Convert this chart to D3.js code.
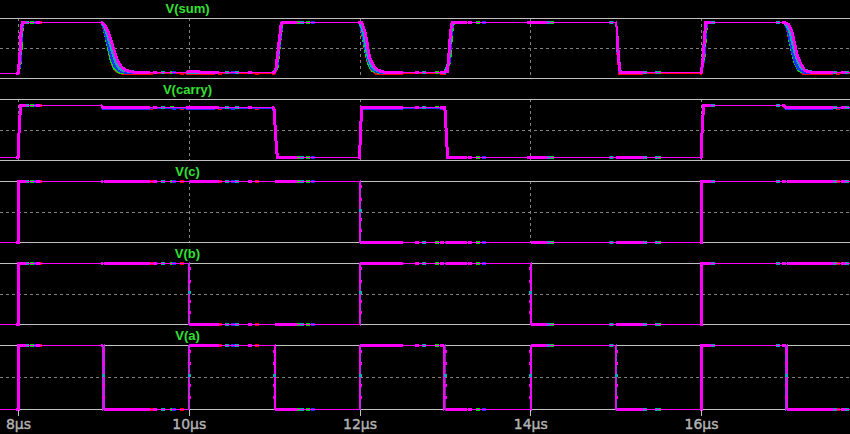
<!DOCTYPE html>
<html><head><meta charset="utf-8">
<script src="https://cdn.jsdelivr.net/npm/d3@7"></script>
<style>html,body{margin:0;padding:0;background:#000;} svg{display:block;}</style>
</head><body>
<svg id="chart" width="850" height="434"></svg>
<script>
// ---------------- DATA ----------------
const paneNames = ["V(sum)", "V(carry)", "V(c)", "V(b)", "V(a)"];
const tickValues = [8, 10, 12, 14, 16];
const tickLabels = ["8µs", "10µs", "12µs", "14µs", "16µs"];
const timeDomain = [7.789, 17.745]; // µs

// input sources (identical in every run)
const vA = [[7.789,0],[8.0,0],[8.0,5],[9.0,5],[9.0,0],[10.0,0],[10.0,5],[11.0,5],[11.0,0],[12.0,0],[12.0,5],[13.0,5],[13.0,0],[14.0,0],[14.0,5],[15.0,5],[15.0,0],[16.0,0],[16.0,5],[17.0,5],[17.0,0],[17.745,0]];
const vB = [[7.789,0],[8.0,0],[8.0,5],[10.0,5],[10.0,0],[12.0,0],[12.0,5],[14.0,5],[14.0,0],[16.0,0],[16.0,5],[17.745,5]];
const vC = [[7.789,0],[8.0,0],[8.0,5],[12.0,5],[12.0,0],[16.0,0],[16.0,5],[17.745,5]];
// data-point levels seen along the sharp input edges (V)
const edgeMarkLevels = [4.6, 3.6, 2.7, 1.9, 1.0];

// V(sum) per run
const sumMagenta = [[7.789,-0.1],[8.0,-0.1],[8.02,1.5],[8.035,4.0],[8.05,5.0],
 [8.98,5.0],[9.019,4.7],[9.058,4.0],[9.098,3.0],[9.136,1.9],[9.175,1.0],[9.215,0.5],[9.273,0.2],[9.347,0.05],[9.45,0.0],
 [9.97,0.0],[9.99,0.1],[10.12,0.1],[10.14,0.0],
 [11.0,0.0],[11.02,0.3],[11.05,2.5],[11.08,4.7],[11.09,5.0],
 [12.0,5.0],[12.026,5.0],[12.064,4.1],[12.084,3.2],[12.103,2.2],[12.123,1.4],[12.162,0.7],[12.201,0.3],[12.26,0.1],[12.319,0.0],
 [12.98,0.0],[13.0,0.1],[13.03,0.1],[13.045,1.5],[13.065,4.0],[13.085,5.0],
 [15.0,5.0],[15.01,4.2],[15.03,2.0],[15.045,0.4],[15.055,0.0],
 [16.0,0.0],[16.02,1.0],[16.04,3.5],[16.055,5.0],
 [16.984,5.0],[17.023,4.8],[17.062,4.2],[17.081,3.5],[17.101,2.7],[17.121,1.9],[17.14,1.4],[17.18,0.7],[17.218,0.2],[17.277,0.05],[17.394,0.0],[17.745,0.0]];
const sumRed = [[7.789,-0.1],[8.0,-0.1],[8.025,1.0],[8.04,4.0],[8.055,5.0],
 [8.975,5.0],[9.0,4.6],[9.03,3.6],[9.06,2.4],[9.09,1.2],[9.12,0.5],[9.16,0.1],[9.22,-0.1],
 [11.0,-0.1],[11.03,0.5],[11.06,3.0],[11.09,4.8],[11.1,5.0],
 [12.0,5.0],[12.02,4.5],[12.05,3.2],[12.075,2.0],[12.1,1.0],[12.14,0.3],[12.2,-0.1],
 [13.0,-0.1],[13.05,1.0],[13.075,4.0],[13.095,5.0],
 [15.0,5.0],[15.012,4.0],[15.03,1.5],[15.05,-0.1],
 [16.0,-0.1],[16.03,1.5],[16.05,4.0],[16.065,5.0],
 [16.98,5.0],[17.01,4.4],[17.04,3.2],[17.07,2.0],[17.1,1.0],[17.14,0.3],[17.2,-0.1],[17.745,-0.1]];
const sumGreen = [[7.789,-0.1],[8.0,-0.1],[8.028,1.0],[8.045,4.0],[8.06,5.0],
 [8.975,5.0],[9.005,4.5],[9.035,3.4],[9.065,2.2],[9.095,1.1],[9.13,0.4],[9.18,0.05],[9.25,0.0],
 [11.0,0.0],[11.035,0.5],[11.065,3.0],[11.095,5.0],
 [12.0,5.0],[12.025,4.4],[12.055,3.0],[12.08,1.8],[12.11,0.8],[12.15,0.2],[12.22,0.0],
 [13.0,0.0],[13.055,1.0],[13.08,4.0],[13.1,5.0],
 [15.0,5.0],[15.015,3.8],[15.035,1.2],[15.055,0.0],
 [16.0,0.0],[16.035,1.5],[16.055,4.0],[16.07,5.0],
 [16.98,5.0],[17.015,4.3],[17.045,3.0],[17.075,1.8],[17.105,0.9],[17.15,0.2],[17.22,0.0],[17.745,0.0]];
const sumBlue = [[7.789,-0.1],[8.0,-0.1],[8.025,1.2],[8.04,4.0],[8.055,5.0],
 [8.975,5.0],[9.005,4.5],[9.035,3.5],[9.07,2.4],[9.1,1.4],[9.135,0.6],[9.18,0.2],[9.24,0.05],[9.3,0.0],
 [11.0,0.0],[11.03,0.5],[11.06,2.8],[11.09,4.8],[11.1,5.0],
 [12.0,5.0],[12.022,4.5],[12.05,3.4],[12.078,2.2],[12.105,1.2],[12.145,0.4],[12.2,0.1],[12.26,0.0],
 [13.0,0.0],[13.05,1.0],[13.075,4.0],[13.095,5.0],
 [15.0,5.0],[15.012,3.9],[15.032,1.5],[15.052,0.0],
 [16.0,0.0],[16.03,1.2],[16.05,3.8],[16.065,5.0],
 [16.98,5.0],[17.012,4.4],[17.042,3.3],[17.072,2.1],[17.102,1.1],[17.14,0.4],[17.2,0.05],[17.27,0.0],[17.745,0.0]];
const sumCyan = [[7.789,-0.1],[8.0,-0.1],[8.022,1.5],[8.038,4.0],[8.052,5.0],
 [8.978,5.0],[9.012,4.6],[9.045,3.8],[9.08,2.8],[9.115,1.8],[9.15,0.9],[9.19,0.4],[9.24,0.2],[9.32,0.1],[9.4,0.0],
 [11.0,0.0],[11.025,0.4],[11.055,2.6],[11.085,4.8],[11.095,5.0],
 [12.0,5.0],[12.02,4.7],[12.05,3.8],[12.075,2.6],[12.1,1.6],[12.14,0.7],[12.19,0.25],[12.25,0.1],[12.3,0.0],
 [13.0,0.0],[13.045,1.0],[13.07,4.0],[13.09,5.0],
 [15.0,5.0],[15.01,4.0],[15.03,1.8],[15.05,0.2],[15.06,0.0],
 [16.0,0.0],[16.025,1.2],[16.045,3.8],[16.06,5.0],
 [16.982,5.0],[17.015,4.6],[17.05,3.8],[17.075,2.8],[17.1,2.0],[17.13,1.2],[17.17,0.5],[17.22,0.2],[17.3,0.05],[17.38,0.0],[17.745,0.0]];

// V(carry) per run
const carryMagenta = [[7.789,0],[8.0,0],[8.015,3.0],[8.03,5.0],[8.97,5.0],[9.0,4.78],[10.99,4.78],[11.0,4.6],[11.015,2.5],[11.03,0.6],[11.04,0],
 [12.0,0],[12.012,2.5],[12.025,4.8],[13.0,4.8],[13.012,3.0],[13.025,1.0],[13.035,0],[16.0,0],[16.015,3.0],[16.03,5.0],[16.97,5.0],[17.0,4.78],[17.745,4.78]];
const carryRed = [[7.789,0],[8.0,0],[8.015,3.0],[8.03,5.0],[8.97,5.0],[9.0,4.68],[10.99,4.68],[11.0,4.5],[11.015,2.5],[11.03,0.6],[11.04,0],
 [12.0,0],[12.012,2.5],[12.025,4.7],[13.0,4.7],[13.012,3.0],[13.025,1.0],[13.035,0],[16.0,0],[16.015,3.0],[16.03,5.0],[16.97,5.0],[17.0,4.68],[17.745,4.68]];
const carryBlue = [[7.789,0],[8.0,0],[8.015,3.0],[8.03,5.0],[8.97,5.0],[9.0,4.72],[10.99,4.72],[11.0,4.5],[11.015,2.5],[11.03,0.6],[11.04,0],
 [12.0,0],[12.012,2.5],[12.025,4.74],[13.0,4.74],[13.012,3.0],[13.025,1.0],[13.035,0],[16.0,0],[16.015,3.0],[16.03,5.0],[16.97,5.0],[17.0,4.72],[17.745,4.72]];

// time spans with dense simulation points (µs): outputs and inputs
const denseWindows = [[7.977,8.094],[8.972,9.546],[9.968,10.307],[10.975,11.268],[11.982,12.510],[12.943,13.259],[13.962,14.196],[15.005,15.321],[15.988,16.117],[16.949,17.546]];
const denseWindowsInputs = [[7.977,8.094],[8.972,8.99],[9.01,9.546],[10.01,10.307],[11.01,11.268],[12.01,12.510],[12.943,12.99],[13.01,13.259],[14.01,14.196],[15.01,15.321],[15.988,16.117],[16.949,16.99],[17.01,17.546]];
// isolated data-point markers per run (µs)
const marksMagenta = [8.234, 9.605, 10.331, 10.717, 12.674, 13.294, 17.663];
const marksCyan = [8.105, 9.698, 10.448, 10.565, 11.327, 12.756, 14.22, 14.95, 15.344, 15.485, 16.141, 16.902, 17.57, 17.71];
const marksGreen = [8.164, 9.804, 11.28, 11.397, 12.908, 13.388, 14.255, 15.508];
const marksBlue = [8.211, 9.827, 10.518, 11.455, 13.458];
const marksRed = [8.258, 9.558, 9.921, 10.366, 10.799, 17.605];

// ---------------- LAYOUT ----------------
const W = 850, H = 434;
const panes = [
  {name: paneNames[0], top: 18,  bottom: 78,  domain: [-0.6, 5.4],   key: "sum"},
  {name: paneNames[1], top: 99,  bottom: 160, domain: [-0.29, 5.58], key: "carry"},
  {name: paneNames[2], top: 181, bottom: 242, domain: [0, 5],        key: "c"},
  {name: paneNames[3], top: 263, bottom: 324, domain: [0, 5],        key: "b"},
  {name: paneNames[4], top: 345, bottom: 409, domain: [0, 5],        key: "a"}
];
const runs = [
  {color: "#ff0000", sum: sumRed,     carry: carryRed,     marks: marksRed},
  {color: "#00e000", sum: sumGreen,   carry: carryMagenta, marks: marksGreen},
  {color: "#2030ff", sum: sumBlue,    carry: carryBlue,    marks: marksBlue},
  {color: "#10a8b8", sum: sumCyan,    carry: carryMagenta, marks: marksCyan},
  {color: "#ff00ff", sum: sumMagenta, carry: carryMagenta, marks: marksMagenta}
];
const shared = {a: vA, b: vB, c: vC};

const svg = d3.select("#chart");
svg.append("rect").attr("width", W).attr("height", H).attr("fill", "#000");
const x = d3.scaleLinear().domain(timeDomain).range([0, W]);
const defs = svg.append("defs");

function makeClip(id, windows, marks) {
  const cp = defs.append("clipPath").attr("id", id);
  windows.forEach(w => cp.append("rect")
    .attr("x", x(w[0])).attr("width", x(w[1]) - x(w[0])).attr("y", 0).attr("height", H));
  marks.forEach(t => cp.append("rect")
    .attr("x", x(t) - 2).attr("width", 4).attr("y", 0).attr("height", H));
}
runs.forEach((r, i) => {
  makeClip("clipO" + i, denseWindows, r.marks);
  makeClip("clipI" + i, denseWindowsInputs, r.marks);
});

panes.forEach(p => {
  const g = svg.append("g");
  const y = d3.scaleLinear().domain(p.domain).range([p.bottom + 0.5, p.top + 0.5]);
  const mid = Math.round((p.top + p.bottom) / 2) + 0.5;
  g.append("line").attr("x1", 0).attr("x2", W).attr("y1", mid).attr("y2", mid)
    .attr("stroke", "#808080").attr("stroke-dasharray", "3,3").attr("shape-rendering", "crispEdges");
  tickValues.forEach(t => {
    const xx = Math.round(x(t)) + 0.5;
    g.append("line").attr("x1", xx).attr("x2", xx).attr("y1", p.top).attr("y2", p.bottom)
      .attr("stroke", "#808080").attr("stroke-dasharray", "3,3").attr("shape-rendering", "crispEdges");
  });
  [p.top, p.bottom].forEach(yy => g.append("line").attr("x1", 0).attr("x2", W)
    .attr("y1", yy + 0.5).attr("y2", yy + 0.5).attr("stroke", "#c0c0c0").attr("shape-rendering", "crispEdges"));
  g.append("text").attr("x", 187.5).attr("y", p.top - 5).attr("text-anchor", "middle")
    .attr("font-family", "Liberation Sans, Arial, sans-serif").attr("font-weight", "bold")
    .attr("font-size", "13px").attr("fill", "#33e033").text(p.name);
  const line = d3.line().x(d => x(d[0])).y(d => y(d[1]));
  const isInput = !(p.key === "sum" || p.key === "carry");
  runs.forEach((r, i) => {
    const data = p.key === "sum" ? r.sum : p.key === "carry" ? r.carry : shared[p.key];
    g.append("path").attr("d", line(data)).attr("fill", "none").attr("stroke", r.color)
      .attr("stroke-width", 1).attr("shape-rendering", "crispEdges");
    g.append("path").attr("d", line(data)).attr("fill", "none").attr("stroke", r.color)
      .attr("stroke-width", 3).attr("clip-path", `url(#${isInput ? "clipI" : "clipO"}${i})`)
      .attr("shape-rendering", "crispEdges");
  });
  if (isInput) {
    // data-point squares along the sharp edges (except the dense ones at 8 and 16 µs)
    const data = shared[p.key];
    const edges = data.filter((d, k) => k > 0 && data[k - 1][0] === d[0] && d[0] !== 8 && d[0] !== 16);
    edges.forEach(e => {
      edgeMarkLevels.forEach((v, k) => {
        g.append("rect").attr("x", Math.round(x(e[0])) - 1).attr("y", Math.round(y(v)) - 1)
          .attr("width", 3).attr("height", 3).attr("fill", k === 2 ? "#10a8b8" : "#ff00ff");
      });
    });
  }
});

const axis = d3.axisBottom(x).tickValues(tickValues).tickSize(6).tickPadding(3.5)
  .tickFormat((d, i) => tickLabels[i]);
const ag = svg.append("g").attr("transform", "translate(0,409.5)").call(axis);
ag.select(".domain").remove();
ag.selectAll(".tick line").attr("stroke", "#c0c0c0").attr("shape-rendering", "crispEdges");
ag.selectAll(".tick text").attr("fill", "#b4b4b4").attr("stroke", "#b4b4b4").attr("stroke-width", 0.4)
  .attr("font-family", "DejaVu Sans, sans-serif").attr("font-size", "14px");
</script>
</body></html>
